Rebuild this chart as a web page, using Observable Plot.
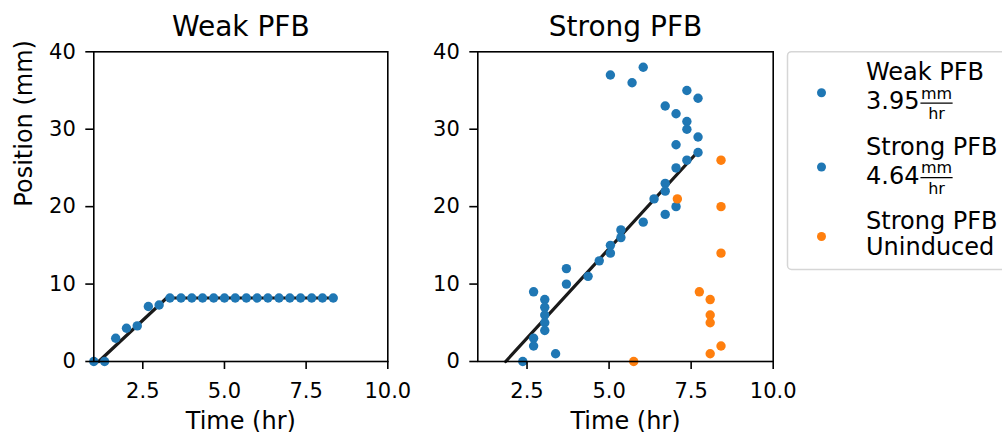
<!DOCTYPE html>
<html><head><meta charset="utf-8">
<script src="https://cdn.jsdelivr.net/npm/d3@7"></script>
<script src="https://cdn.jsdelivr.net/npm/@observablehq/plot@0.6"></script>
<style>
html,body{margin:0;padding:0;background:#fff;}
#chart{position:relative;width:1002px;height:432px;overflow:hidden;font-family:"DejaVu Sans",sans-serif;}
#chart > svg{position:absolute;top:0;}
</style></head><body><div id="chart"></div>
<script>
// ---- data ----
const weakTime = [1.0, 1.33, 1.67, 2.0, 2.33, 2.67, 3.0, 3.33, 3.67, 4.0, 4.33, 4.67, 5.0, 5.33, 5.67, 6.0, 6.33, 6.67, 7.0, 7.33, 7.67, 8.0, 8.33];
const weakPos  = [0, 0, 3.0, 4.3, 4.6, 7.1, 7.3, 8.2, 8.2, 8.2, 8.2, 8.2, 8.2, 8.2, 8.2, 8.2, 8.2, 8.2, 8.2, 8.2, 8.2, 8.2, 8.2];
const weakFitTime = [1.15, 3.23, 8.33];
const weakFitPos  = [0, 8.2, 8.2];

const strongTime = [5.04, 5.70, 6.04, 6.71, 7.04, 7.37, 7.71, 7.37, 7.37, 7.71, 7.04, 7.71, 7.37, 7.04, 6.71, 6.71, 6.37, 7.04, 6.71, 6.04, 5.36, 5.36, 5.04, 5.04, 4.70, 4.36, 3.70, 3.70, 2.70, 3.04, 3.04, 3.04, 3.04, 3.04, 2.70, 2.70, 3.37, 2.37];
const strongPos  = [37, 36, 38, 33, 32, 35, 34, 31, 30, 29, 28, 27, 26, 25, 23, 22, 21, 20, 19, 18, 17, 16, 15, 14, 13, 11, 12, 10, 9, 8, 7, 6, 5, 4, 3, 2, 1, 0];
const strongFitTime = [1.85, 7.64];
const strongFitPos  = [0, 26.8];

const uninducedTime = [8.41, 7.08, 8.41, 8.41, 7.75, 8.08, 8.08, 8.08, 8.08, 8.41, 5.75];
const uninducedPos  = [26, 21, 20, 14, 9, 8, 6, 5, 1, 2, 0];

const xTicks = [2.5, 5.0, 7.5, 10.0];
const yTicks = [0, 10, 20, 30, 40];
const panelTitles = ["Weak PFB", "Strong PFB"];
const xLabel = "Time (hr)";
const yLabel = "Position (mm)";

const legendColors = ["#1f77b4", "#1f77b4", "#ff7f0e"];
const legendLine1 = ["Weak PFB", "Strong PFB", "Strong PFB"];
const legendLine2 = ["3.95", "4.64", "Uninduced"];
const legendUnitTop = ["mm", "mm", null];
const legendUnitBottom = ["hr", "hr", null];

const blue = "#1f77b4", orange = "#ff7f0e";
const zip = (xs, ys) => xs.map((t, i) => ({t, p: ys[i]}));

function panel({title, series, fit, showYLabel, marginRight}) {
  return Plot.plot({
    width: 420, height: 432,
    marginLeft: 93.3, marginRight, marginTop: 51.3, marginBottom: 71,
    style: {fontFamily: "DejaVu Sans", fontSize: "21px", color: "black", background: "transparent", overflow: "visible"},
    x: {domain: [1, 10]},
    y: {domain: [0, 40]},
    marks: [
      Plot.line(fit, {x: "t", y: "p", stroke: "#1a1a1a", strokeWidth: 3.2}),
      ...series.map(s => Plot.dot(s.data, {x: "t", y: "p", fill: s.color, r: 4.7})),
      Plot.frame({stroke: "black", strokeWidth: 1.6}),
      Plot.axisX(xTicks, {tickFormat: d3.format(".1f"), tickSize: 8, tickPadding: 14, strokeWidth: 1.6, label: null, fontSize: 21}),
      Plot.axisY(yTicks, {tickSize: 8, tickPadding: 10, strokeWidth: 1.6, label: null, fontSize: 21}),
      Plot.text([title], {frameAnchor: "top", dy: -16.3, lineAnchor: "bottom", fontSize: 28}),
      Plot.text([xLabel], {frameAnchor: "bottom", dy: 67.6, lineAnchor: "bottom", fontSize: 24}),
      showYLabel ? Plot.text([yLabel], {frameAnchor: "left", dx: -61.6, rotate: -90, lineAnchor: "bottom", fontSize: 24}) : null
    ]
  });
}

const chart = document.getElementById("chart");
const left = panel({
  title: panelTitles[0],
  series: [{data: zip(weakTime, weakPos), color: blue}],
  fit: zip(weakFitTime, weakFitPos),
  showYLabel: true,
  marginRight: 32.7
});
left.style.left = "0px";
chart.appendChild(left);

const right = panel({
  title: panelTitles[1],
  series: [{data: zip(strongTime, strongPos), color: blue}, {data: zip(uninducedTime, uninducedPos), color: orange}],
  fit: zip(strongFitTime, strongFitPos),
  showYLabel: false,
  marginRight: 31.3
});
right.style.left = "384px";
chart.appendChild(right);

// ---- legend ----
const lg = d3.select(chart).append("svg")
  .attr("width", 1002).attr("height", 432)
  .style("left", "0px")
  .attr("font-family", "DejaVu Sans");
lg.append("rect")
  .attr("x", 787.5).attr("y", 51.7).attr("width", 260).attr("height", 217.8)
  .attr("rx", 4).attr("fill", "white").attr("stroke", "#d6d6d6").attr("stroke-width", 1.5);

const line1Base = [80, 155, 229.4];
const line2Gap = [29, 28.5, 25.8];
const dotY = [92.7, 167, 236.5];
legendColors.forEach((c, i) => {
  lg.append("circle").attr("cx", 821.5).attr("cy", dotY[i]).attr("r", 4.5).attr("fill", c);
  lg.append("text").attr("x", 866).attr("y", line1Base[i]).attr("font-size", 24).text(legendLine1[i]);
  const b2 = line1Base[i] + line2Gap[i];
  const t2 = lg.append("text").attr("x", 866).attr("y", b2).attr("font-size", 24).text(legendLine2[i]);
  if (legendUnitTop[i]) {
    const w = t2.node().getComputedTextLength();
    const fx = 866 + w + 1.5;
    const top = lg.append("text").attr("x", fx).attr("y", b2 - 10.5).attr("font-size", 16).text(legendUnitTop[i]);
    const tw = top.node().getComputedTextLength();
    lg.append("line").attr("x1", fx - 0.5).attr("x2", fx + tw + 0.5)
      .attr("y1", b2 - 5.9).attr("y2", b2 - 5.9).attr("stroke", "black").attr("stroke-width", 1.3);
    lg.append("text").attr("x", fx + tw / 2).attr("y", b2 + 10).attr("text-anchor", "middle")
      .attr("font-size", 16).text(legendUnitBottom[i]);
  }
});
</script></body></html>
